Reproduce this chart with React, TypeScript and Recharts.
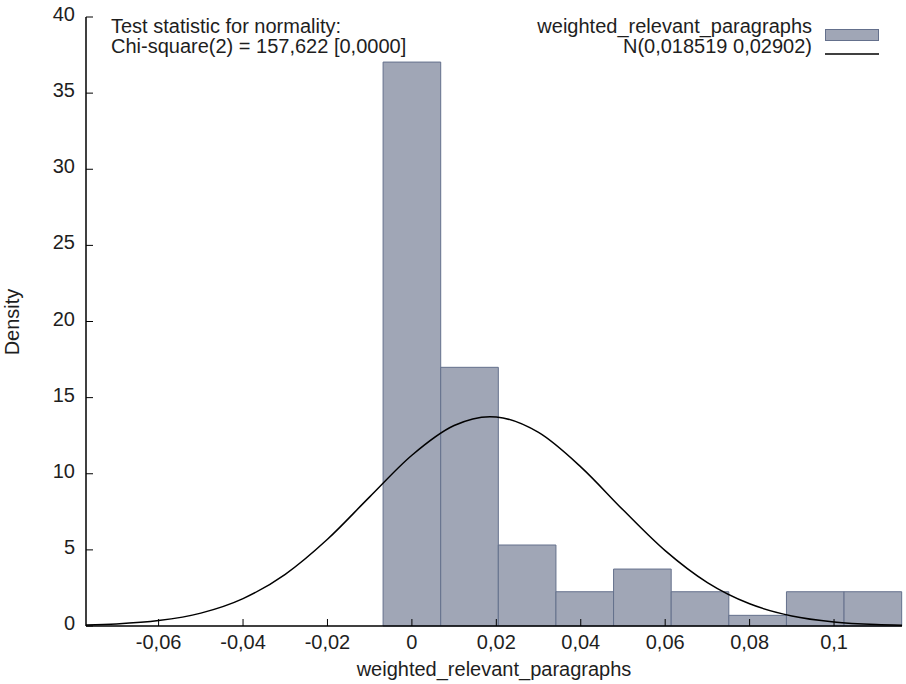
import React from 'react';
import {
  ComposedChart,
  Line,
  XAxis,
  YAxis,
  ReferenceArea,
  Customized,
} from 'recharts';

// Histogram bins (left edges) and densities
const binLeft = [-0.006825, 0.006825, 0.020475, 0.034125, 0.047775, 0.061425, 0.075075, 0.088725, 0.102375];
const binWidth = 0.01365;
const binDensity = [37.04, 16.99, 5.32, 2.25, 3.74, 2.25, 0.7, 2.25, 2.25];

// Normal curve points N(0.018519, 0.02902)
const curveX = [-0.0772, -0.07, -0.06, -0.05, -0.04, -0.03, -0.02, -0.01, 0, 0.01, 0.0185, 0.02, 0.03, 0.04, 0.05, 0.06, 0.07, 0.08, 0.09, 0.1, 0.11, 0.1161];
const curveY = [0.0597, 0.1311, 0.3537, 0.8467, 1.8, 3.398, 5.697, 8.482, 11.215, 13.167, 13.747, 13.729, 12.712, 10.453, 7.632, 4.949, 2.85, 1.457, 0.6618, 0.2668, 0.0956, 0.0482];

const xTicks = [-0.06, -0.04, -0.02, 0, 0.02, 0.04, 0.06, 0.08, 0.1];
const yTicks = [0, 5, 10, 15, 20, 25, 30, 35, 40];

const seriesName = 'weighted_relevant_paragraphs';
const curveName = 'N(0,018519 0,02902)';
const testLine1 = 'Test statistic for normality:';
const testLine2 = 'Chi-square(2) = 157,622 [0,0000]';

const data = curveX.map((x, i) => ({ x, pdf: curveY[i] }));

const FONT = '"Liberation Sans", Arial, Helvetica, sans-serif';
const TXT = '#1e1e1e';
const BAR_FILL = '#a0a6b6';
const BAR_STROKE = '#64708c';
const TICK = 7;

const fmt = (v: number) => Number(v.toFixed(2)).toString().replace('.', ',');

const BottomTick = (p: any) => (
  <g>
    <line x1={p.x} y1={p.y} x2={p.x} y2={p.y - TICK} stroke="#000" strokeWidth={1} />
    <text x={p.x} y={p.y + 23} textAnchor="middle" fontSize={20} fontFamily={FONT} fill={TXT}>
      {fmt(p.payload.value)}
    </text>
  </g>
);
const TopTick = (p: any) => (
  <line x1={p.x} y1={p.y} x2={p.x} y2={p.y + TICK} stroke="#000" strokeWidth={1} />
);
const LeftTick = (p: any) => (
  <g>
    <line x1={p.x} y1={p.y} x2={p.x + TICK} y2={p.y} stroke="#000" strokeWidth={1} />
    <text x={p.x - 11} y={p.y + 4} textAnchor="end" fontSize={20} fontFamily={FONT} fill={TXT}>
      {String(p.payload.value)}
    </text>
  </g>
);
const RightTick = (p: any) => (
  <line x1={p.x} y1={p.y} x2={p.x - TICK} y2={p.y} stroke="#000" strokeWidth={1} />
);

const Overlay = () => (
  <g fontFamily={FONT} fontSize={20} fill={TXT}>
    <text x={111} y={33}>{testLine1}</text>
    <text x={111} y={53}>{testLine2}</text>
    <text x={812} y={33} textAnchor="end">{seriesName}</text>
    <text x={812} y={53} textAnchor="end">{curveName}</text>
    <rect x={825.5} y={29.5} width={53} height={11} fill={BAR_FILL} stroke={BAR_STROKE} strokeWidth={1} />
    <line x1={825} y1={54} x2={879} y2={54} stroke="#000" strokeWidth={1.3} />
    <text x={0} y={0} transform="translate(19,322) rotate(-90)" textAnchor="middle">Density</text>
    <text x={494} y={676} textAnchor="middle">{seriesName}</text>
  </g>
);

export default function App() {
  return (
    <div style={{ position: 'absolute', left: 0, top: 0, width: 906, height: 684, background: '#fff' }}>
      <ComposedChart width={906} height={684} data={data} margin={{ top: 17, right: 4, left: 0, bottom: 0 }}>
        <XAxis
          dataKey="x"
          type="number"
          domain={[-0.0772, 0.1161]}
          allowDataOverflow
          ticks={xTicks}
          interval={0}
          tickSize={0}
          tickMargin={0}
          tickLine={false}
          tick={BottomTick}
          height={58}
          axisLine={{ stroke: '#000', strokeWidth: 1.5 }}
        />
        <XAxis
          xAxisId="top"
          orientation="top"
          dataKey="x"
          type="number"
          domain={[-0.0772, 0.1161]}
          allowDataOverflow
          ticks={xTicks}
          interval={0}
          tickSize={0}
          tickMargin={0}
          tickLine={false}
          tick={TopTick}
          height={0}
          axisLine={{ stroke: '#000', strokeWidth: 1.5 }}
        />
        <YAxis
          type="number"
          domain={[0, 40]}
          ticks={yTicks}
          interval={0}
          tickSize={0}
          tickMargin={0}
          tickLine={false}
          tick={LeftTick}
          width={86}
          axisLine={{ stroke: '#000', strokeWidth: 1.5 }}
        />
        <YAxis
          yAxisId="right"
          orientation="right"
          type="number"
          domain={[0, 40]}
          ticks={yTicks}
          interval={0}
          tickSize={0}
          tickMargin={0}
          tickLine={false}
          tick={RightTick}
          width={0}
          axisLine={{ stroke: '#000', strokeWidth: 1.5 }}
        />
        {binLeft.map((x0, i) => (
          <ReferenceArea
            key={i}
            x1={x0}
            x2={x0 + binWidth}
            y1={0}
            y2={binDensity[i]}
            ifOverflow="visible"
            fill={BAR_FILL}
            fillOpacity={1}
            stroke={BAR_STROKE}
            strokeWidth={1}
          />
        ))}
        <Line
          dataKey="pdf"
          type="monotone"
          stroke="#000"
          strokeWidth={1.5}
          dot={false}
          activeDot={false}
          isAnimationActive={false}
        />
        <Customized component={Overlay} />
      </ComposedChart>
    </div>
  );
}
